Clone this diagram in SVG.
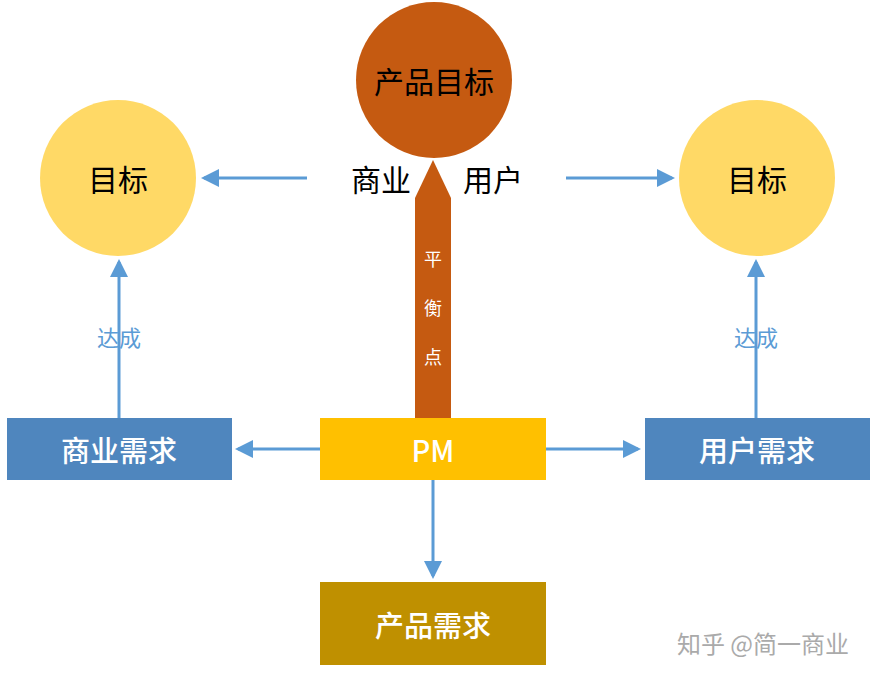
<svg xmlns="http://www.w3.org/2000/svg" width="878" height="678" viewBox="0 0 878 678">
<defs>
<marker id="ah" markerWidth="6" markerHeight="6" refX="5" refY="3" orient="auto" markerUnits="strokeWidth"><path d="M0,0 L6,3 L0,6 z" fill="#5B9BD5"/></marker>
<style>
.t{font-family:"Noto Sans CJK SC","Liberation Sans",sans-serif;text-anchor:middle;dominant-baseline:central}
.c{stroke:#5B9BD5;stroke-width:3;fill:none;marker-end:url(#ah)}
.w{fill:#fff;font-size:29px;font-weight:500}
</style>
</defs>
<rect width="878" height="678" fill="#fff"/>
<g id="connectors">
<line class="c" x1="307" y1="178" x2="204" y2="178"/>
<line class="c" x1="566" y1="178" x2="672" y2="178"/>
<line class="c" x1="119" y1="418" x2="119" y2="262"/>
<line class="c" x1="756" y1="418" x2="756" y2="262"/>
<line class="c" x1="320" y1="449" x2="238" y2="449"/>
<line class="c" x1="546" y1="449" x2="638" y2="449"/>
<line class="c" x1="433" y1="480" x2="433" y2="576"/>
<text class="t" x="119" y="336" font-size="22" fill="#5B9BD5">达成</text>
<text class="t" x="756" y="336" font-size="22" fill="#5B9BD5">达成</text>
</g>
<g id="goal"><circle cx="434" cy="80" r="78" fill="#C55A11"/><text class="t" x="434" y="80" font-size="30" fill="#000">产品目标</text></g>
<g id="left-goal"><circle cx="118" cy="178" r="78" fill="#FFD966"/><text class="t" x="118" y="178" font-size="30" fill="#000">目标</text></g>
<g id="right-goal"><circle cx="757" cy="178" r="78" fill="#FFD966"/><text class="t" x="757" y="178" font-size="30" fill="#000">目标</text></g>
<g id="labels"><text class="t" x="381" y="178" font-size="30" fill="#000">商业</text><text class="t" x="493" y="178" font-size="30" fill="#000">用户</text></g>
<g id="balance">
<polygon points="415,418 415,198 433,160 451,198 451,418" fill="#C55A11"/>
<text class="t" x="433" y="258" font-size="18" fill="#fff">平</text>
<text class="t" x="433" y="307" font-size="18" fill="#fff">衡</text>
<text class="t" x="433" y="356" font-size="18" fill="#fff">点</text>
</g>
<g id="pm"><rect x="320" y="418" width="226" height="62" fill="#FFC000"/><text class="t w" x="433" y="449">PM</text></g>
<g id="biz"><rect x="7" y="418" width="225" height="62" fill="#4F86BE"/><text class="t w" x="119" y="449">商业需求</text></g>
<g id="user"><rect x="645" y="418" width="225" height="62" fill="#4F86BE"/><text class="t w" x="757" y="449">用户需求</text></g>
<g id="prod"><rect x="320" y="582" width="226" height="83" fill="#BF9000"/><text class="t w" x="433" y="624">产品需求</text></g>
<text class="t" x="763" y="642" font-size="24" fill="#aaa">知乎 @简一商业</text>
</svg>
